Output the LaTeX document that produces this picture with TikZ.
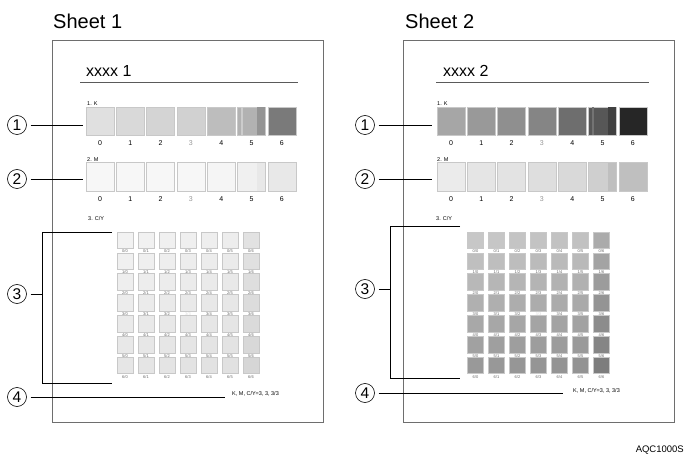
\documentclass[tikz,border=0pt]{standalone}
\usepackage{fontspec}
\setmainfont{Liberation Sans}
\usepackage{xcolor}
\definecolor{sheetedge}{RGB}{110,110,110}
\definecolor{patchedge}{RGB}{200,200,200}
\definecolor{ruleline}{RGB}{90,90,90}
\definecolor{faintnum}{RGB}{150,150,150}

\begin{document}
\begin{tikzpicture}[
    x=1pt, y=-1pt,
    every node/.style={font=\fontsize{7}{8}\selectfont},
    sheet/.style={draw=sheetedge, line width=0.8pt, minimum width=271pt, minimum height=382pt, inner sep=0pt},
    patch/.style={draw=patchedge, line width=0.5pt, minimum width=28pt, minimum height=28.5pt, inner sep=0pt},
    cell/.style={draw=patchedge, line width=0.4pt, minimum width=16pt, minimum height=16.5pt, inner sep=0pt},
    cellab/.style={inner sep=0pt, font=\fontsize{4}{4}\selectfont},
    tag/.style={anchor=west, inner sep=0pt, font=\fontsize{5.5}{6}\selectfont},
    title/.style={anchor=base west, inner sep=0pt, font=\fontsize{20}{24}\selectfont},
    docname/.style={anchor=base west, inner sep=0pt, font=\fontsize{16}{19}\selectfont},
    circnum/.style={draw, circle, line width=0.6pt, minimum size=19pt, inner sep=0pt, outer sep=4pt, font=\fontsize{15.5}{15.5}\selectfont},
    leader/.style={black, line width=0.7pt},
]
  \useasboundingbox (0,0) rectangle (685,454);

  % sheets
  \node[title] (title1) at (53,29) {Sheet 1};
  \node[title] (title2) at (405,29) {Sheet 2};
  \node[sheet] (sheet1) at (187.5,231) {};
  \node[sheet] (sheet2) at (538.5,231) {};
  \node[docname] (name1) at (86,77) {xxxx 1};
  \node[docname] (name2) at (443,77) {xxxx 2};
  \draw[ruleline, line width=0.7pt] (80,82) -- (298,82);
  \draw[ruleline, line width=0.7pt] (436,82) -- (649,82);

  % 1. K and 2. M rows
  \node[tag] (tk1) at (87,104) {1. K};
  \node[tag] (tm1) at (87,160) {2. M};
  \node[tag] (tk2) at (437,104) {1. K};
  \node[tag] (tm2) at (437,160) {2. M};
  \foreach \i/\g in {0/12,1/15,2/17,3/18,4/26,5/30,6/52}
    \node[patch, fill=black!\g] (k1_\i) at (100+30.3*\i,121.5) {};
  \foreach \i/\g in {0/3,1/3,2/3,3/3,4/4,5/6,6/9}
    \node[patch, fill=black!\g] (m1_\i) at (100+30.3*\i,177) {};
  \foreach \i/\g in {0/35,1/40,2/44,3/48,4/57,5/66,6/85}
    \node[patch, fill=black!\g] (k2_\i) at (451+30.3*\i,121.5) {};
  \foreach \i/\g in {0/8,1/10,2/11,3/13,4/15,5/19,6/25}
    \node[patch, fill=black!\g] (m2_\i) at (451+30.3*\i,177) {};
  % stripes on patch 5
  \fill[black!42] ([xshift=-9pt,yshift=-0.5pt]k1_5.north east) rectangle ([xshift=-0.5pt,yshift=0.5pt]k1_5.south east);
  \fill[black!20] ([xshift=4pt,yshift=-0.5pt]k1_5.north west) rectangle ([xshift=6pt,yshift=0.5pt]k1_5.south west);
  \fill[black!75] ([xshift=-9pt,yshift=-0.5pt]k2_5.north east) rectangle ([xshift=-0.5pt,yshift=0.5pt]k2_5.south east);
  \fill[black!55] ([xshift=4pt,yshift=-0.5pt]k2_5.north west) rectangle ([xshift=6pt,yshift=0.5pt]k2_5.south west);
  \fill[black!9] ([xshift=-9pt,yshift=-0.5pt]m1_5.north east) rectangle ([xshift=-0.5pt,yshift=0.5pt]m1_5.south east);
  \fill[black!25] ([xshift=-9pt,yshift=-0.5pt]m2_5.north east) rectangle ([xshift=-0.5pt,yshift=0.5pt]m2_5.south east);
  \foreach \i/\c in {0/black,1/black,2/black,3/faintnum,4/black,5/black,6/black} {
    \node[text=\c] at (100+30.3*\i,143) {\i};
    \node[text=\c] at (100+30.3*\i,199) {\i};
    \node[text=\c] at (451+30.3*\i,143) {\i};
    \node[text=\c] at (451+30.3*\i,199) {\i};
  }

  % 3. C/Y grids
  \node[tag] (tc1) at (88,219) {3. C/Y};
  \node[tag] (tc2) at (436,219) {3. C/Y};
  \foreach \r in {0,...,6}
    \foreach \c in {0,...,6} {
      \pgfmathsetmacro\ga{5+0.8*\r+0.4*\c+(\c==6)*4}
      \pgfmathsetmacro\gb{22+3*\r+0.5*\c+(\c==6)*8}
      \pgfmathsetmacro\tx{(\r==3)*(\c==3)*45+40}
      \node[cell, fill=black!\ga] (g1_\r_\c) at (125+21*\c,240.25+20.85*\r) {};
      \node[cell, fill=black!\gb] (g2_\r_\c) at (475.5+21*\c,240.25+20.85*\r) {};
      \node[cellab, text=white!\tx!black] at (125+21*\c,251.5+20.85*\r) {\r/\c};
      \node[cellab, text=white!\tx!black] at (475.5+21*\c,251.5+20.85*\r) {\r/\c};
    }
  \node[tag] (tp1) at (232,394) {K, M, C/Y=3, 3, 3/3};
  \node[tag] (tp2) at (573,391) {K, M, C/Y=3, 3, 3/3};

  % callouts, sheet 1
  \node[circnum] (c1_1) at (17,125) {1};
  \node[circnum] (c1_2) at (17,179) {2};
  \node[circnum] (c1_3) at (17,294) {3};
  \node[circnum] (c1_4) at (17,397) {4};
  \coordinate (e1_1) at (83,125);
  \coordinate (e1_2) at (83,179);
  \coordinate (e1_3) at (42,294);
  \coordinate (e1_4) at (225,397);
  \coordinate (bt1) at (112,232);
  \coordinate (bb1) at (112,383);
  \draw[leader] (c1_1) -- (e1_1);
  \draw[leader] (c1_2) -- (e1_2);
  \draw[leader] (c1_3) -- (e1_3);
  \draw[leader] (c1_4) -- (e1_4);
  \draw[leader] (bt1) -- (bt1 -| e1_3) -- (bb1 -| e1_3) -- (bb1);

  % callouts, sheet 2
  \node[circnum] (c2_1) at (365,125) {1};
  \node[circnum] (c2_2) at (365,179) {2};
  \node[circnum] (c2_3) at (365,289) {3};
  \node[circnum] (c2_4) at (365,393) {4};
  \coordinate (e2_1) at (432,125);
  \coordinate (e2_2) at (432,179);
  \coordinate (e2_3) at (390,289);
  \coordinate (e2_4) at (563,393);
  \coordinate (bt2) at (460,226);
  \coordinate (bb2) at (460,378);
  \draw[leader] (c2_1) -- (e2_1);
  \draw[leader] (c2_2) -- (e2_2);
  \draw[leader] (c2_3) -- (e2_3);
  \draw[leader] (c2_4) -- (e2_4);
  \draw[leader] (bt2) -- (bt2 -| e2_3) -- (bb2 -| e2_3) -- (bb2);

  \node[anchor=east, inner sep=0pt, font=\fontsize{9.5}{10}\selectfont] (fig) at (684,450) {AQC1000S};
\end{tikzpicture}
\end{document}
